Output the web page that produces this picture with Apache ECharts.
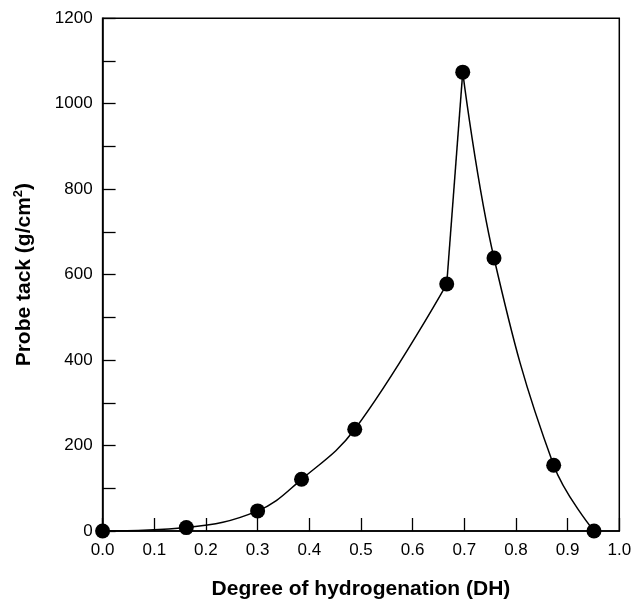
<!DOCTYPE html>
<html>
<head>
<meta charset="utf-8">
<title>Probe tack vs degree of hydrogenation</title>
<script src="https://cdn.jsdelivr.net/npm/echarts@6/dist/echarts.min.js"></script>
<style>
  html, body { margin: 0; padding: 0; background: #fff; }
  #chart { width: 634px; height: 600px; }
</style>
</head>
<body>
<div id="chart"></div>
<script>
// Degree of hydrogenation (x) and measured probe tack in g/cm² (y)
const dh   = [0, 0.162, 0.30, 0.385, 0.488, 0.666, 0.697, 0.7575, 0.873, 0.951];
const tack = [0, 8, 47, 121, 238, 578, 1074, 639, 154, 0];
// index of the maximum; the fitted curve has a cusp there
const peakIndex = 6;

const xTickStep = 0.1;
const yTickStep = 200;

const points = dh.map((x, i) => [x, tack[i]]);
// the curve is drawn in three pieces so the cusp at the maximum stays sharp:
// smooth rise, short steep climb into the peak, smooth fall
const lowerRise = points.slice(0, peakIndex);
const peakClimb = points.slice(peakIndex - 1, peakIndex + 1);
const fall = points.slice(peakIndex);

const FONT = '"Liberation Sans", Arial, Helvetica, sans-serif';
const lineStyle = { color: '#000', width: 1.5 };

function curve(name, data) {
  return {
    name: name,
    type: 'line',
    data: data,
    smooth: 0.4,
    showSymbol: false,
    symbol: 'none',
    lineStyle: lineStyle,
    z: 2
  };
}

const chart = echarts.init(document.getElementById('chart'), null, { renderer: 'canvas' });

chart.setOption({
  animation: false,
  backgroundColor: '#fff',
  grid: {
    left: 102.6,
    right: 14.7,
    top: 18.3,
    bottom: 69,
    containLabel: false,
    outerBoundsMode: 'none',
    show: true,
    borderColor: '#000',
    borderWidth: 1.5,
    backgroundColor: 'transparent'
  },
  xAxis: {
    type: 'value',
    min: 0,
    max: 1,
    interval: xTickStep,
    name: 'Degree of hydrogenation (DH)',
    nameLocation: 'middle',
    nameGap: 48,
    nameTextStyle: { fontFamily: FONT, fontWeight: 'bold', fontSize: 21, color: '#000' },
    axisLine: { show: true, lineStyle: { color: '#000', width: 1.5 } },
    axisTick: { show: true, inside: true, length: 13, lineStyle: { color: '#000', width: 1.3 } },
    axisLabel: {
      margin: 11,
      fontFamily: FONT,
      fontSize: 17,
      color: '#000',
      formatter: v => v.toFixed(1)
    },
    splitLine: { show: false }
  },
  yAxis: {
    type: 'value',
    min: 0,
    max: 1200,
    interval: yTickStep,
    name: 'Probe tack (g/cm{sup|2})',
    nameLocation: 'middle',
    nameRotate: 90,
    nameGap: 66,
    nameTextStyle: {
      fontFamily: FONT,
      fontWeight: 'bold',
      fontSize: 21,
      color: '#000',
      rich: {
        sup: {
          fontFamily: FONT,
          fontWeight: 'bold',
          fontSize: 13,
          color: '#000',
          verticalAlign: 'top',
          padding: [0, 0, 12, 0]
        }
      }
    },
    axisLine: { show: true, lineStyle: { color: '#000', width: 1.5 } },
    axisTick: { show: true, inside: true, length: 13, lineStyle: { color: '#000', width: 1.3 } },
    minorTick: { show: true, splitNumber: 2, length: 13, lineStyle: { color: '#000', width: 1.3 } },
    axisLabel: {
      margin: 10,
      fontFamily: FONT,
      fontSize: 17,
      color: '#000',
      formatter: v => String(v)
    },
    splitLine: { show: false },
    minorSplitLine: { show: false }
  },
  series: [
    curve('rise', lowerRise),
    curve('climb', peakClimb),
    curve('fall', fall),
    {
      name: 'measured',
      type: 'scatter',
      data: points,
      symbol: 'circle',
      symbolSize: 15,
      clip: false,
      itemStyle: { color: '#000', opacity: 1 },
      z: 3
    }
  ]
});
</script>
</body>
</html>
